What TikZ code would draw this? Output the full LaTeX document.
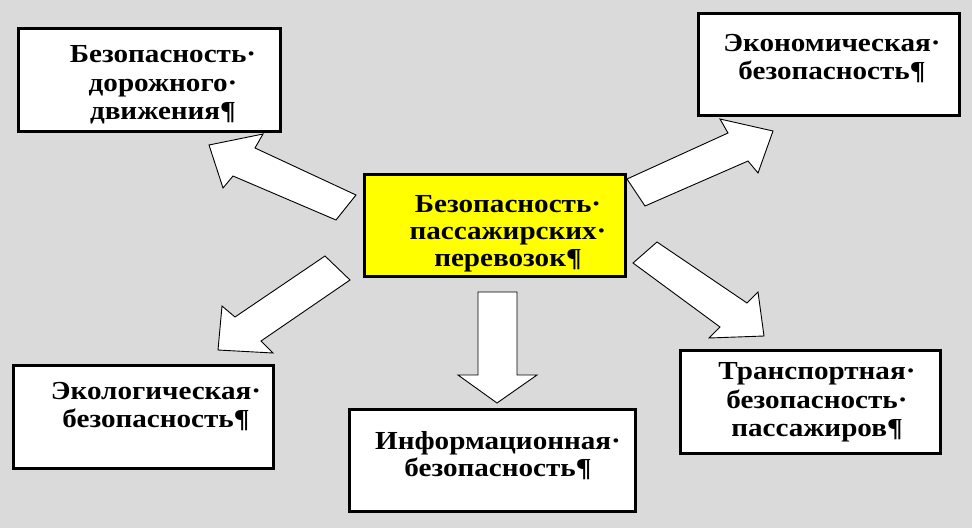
\documentclass[tikz,border=0pt]{standalone}
\usepackage{fontspec}
\newfontfamily\boxfont[FakeStretch=1.12]{Liberation Serif}
\definecolor{bgc}{RGB}{218,218,218}
\definecolor{ylw}{RGB}{255,255,0}
\begin{document}
\begin{tikzpicture}[x=1pt,y=-1pt,
  box/.style={draw=black, line width=3pt, fill=white, inner sep=0pt},
  blk/.style={draw=black, line width=0.9pt, fill=white, line join=miter},
  txt/.style={font=\boxfont\bfseries\fontsize{26}{#1}\selectfont, align=center, inner sep=0pt}]
\useasboundingbox (0,0) rectangle (972,528);
\fill[bgc] (0,0) rectangle (972,528);
% block arrows
\draw[blk] (356,195) -- (255,148) -- (263,134) -- (209,145) -- (223,188) -- (233,176) -- (336,220) -- cycle;
\draw[blk] (325,256) -- (235,317) -- (222,306) -- (218,350) -- (273,353) -- (261,341) -- (350,280) -- cycle;
\draw[blk] (627,179) -- (728,133) -- (720,119) -- (773,131) -- (758,173) -- (748,161) -- (645,206) -- cycle;
\draw[blk] (657,242) -- (747,303) -- (758,292) -- (764,336) -- (709,338) -- (720,327) -- (633,263) -- cycle;
\draw[blk] (478,292) -- (517,292) -- (517,375) -- (537,375) -- (497,403) -- (458,375) -- (478,375) -- cycle;
% boxes
\node[box, minimum width=262pt, minimum height=103pt] (b1) at (149.5,80) {};
\node[box, fill=ylw, minimum width=261pt, minimum height=102pt] (bc) at (495,225.5) {};
\node[box, minimum width=261pt, minimum height=102pt] (b2) at (829,64.5) {};
\node[box, minimum width=260pt, minimum height=103pt] (b3) at (143.5,417) {};
\node[box, minimum width=286pt, minimum height=102pt] (b4) at (492.5,460.5) {};
\node[box, minimum width=260pt, minimum height=103pt] (b5) at (810.5,402) {};
% texts
\node[txt=28.5] (t1) at (163,85) {Безопасность·\\дорожного·\\движения¶};
\node[txt=27] (tc) at (508,234) {Безопасность·\\пассажирских·\\перевозок¶};
\node[txt=28] (t2) at (832,58.5) {Экономическая·\\безопасность¶};
\node[txt=28] (t3) at (156,406.5) {Экологическая·\\безопасность¶};
\node[txt=27] (t4) at (498,456) {Информационная·\\безопасность¶};
\node[txt=28.5] (t5) at (817,402.5) {Транспортная·\\безопасность·\\пассажиров¶};
\end{tikzpicture}
\end{document}
